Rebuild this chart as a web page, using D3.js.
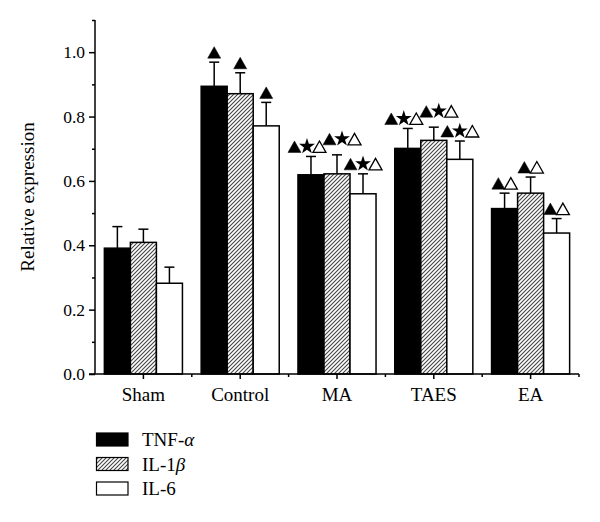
<!DOCTYPE html>
<html>
<head>
<meta charset="utf-8">
<script src="https://cdn.jsdelivr.net/npm/d3@7"></script>
<style>
  body { margin: 0; background: #fff; }
  svg { display: block; }
  text { font-family: "Liberation Serif", "Times New Roman", serif; fill: #000; }
</style>
</head>
<body>
<svg id="chart" width="600" height="522"></svg>
<script>
// ---- data ----
const categories = ["Sham", "Control", "MA", "TAES", "EA"];
const seriesNames = ["TNF-α", "IL-1β", "IL-6"];
const tnfValues = [0.391, 0.894, 0.619, 0.701, 0.514];
const tnfErrors = [0.067, 0.075, 0.057, 0.062, 0.048];
const il1bValues = [0.409, 0.871, 0.622, 0.726, 0.562];
const il1bErrors = [0.041, 0.065, 0.059, 0.041, 0.050];
const il6Values = [0.282, 0.771, 0.560, 0.667, 0.438];
const il6Errors = [0.050, 0.073, 0.062, 0.057, 0.045];
// significance markers per category (same for each series): T = ▲ filled, S = ★, O = △ open
const markers = ["", "T", "TSO", "TSO", "TO"];
const yTicks = [0.0, 0.2, 0.4, 0.6, 0.8, 1.0];
const yMinorTicks = [0.1, 0.3, 0.5, 0.7, 0.9, 1.1];

// ---- layout ----
const svg = d3.select("#chart");
const plotLeft = 95, plotRight = 579, plotTop = 20, plotBottom = 374;

const x = d3.scaleBand().domain(categories).range([plotLeft, plotRight]).paddingInner(0).paddingOuter(0);
const inner = d3.scaleBand().domain(d3.range(3)).range([0, x.bandwidth()]).paddingInner(0).paddingOuter(0.36);
const y = d3.scaleLinear().domain([0, 1.1]).range([plotBottom, plotTop]);

const series = [
  { name: seriesNames[0], values: tnfValues, errors: tnfErrors, fill: "#000" },
  { name: seriesNames[1], values: il1bValues, errors: il1bErrors, fill: "url(#hatch)" },
  { name: seriesNames[2], values: il6Values, errors: il6Errors, fill: "#fff" }
];

// hatch pattern
const defs = svg.append("defs");
const pat = defs.append("pattern").attr("id", "hatch").attr("patternUnits", "userSpaceOnUse")
  .attr("width", 4).attr("height", 4);
pat.append("rect").attr("width", 4).attr("height", 4).attr("fill", "#fff");
pat.append("path").attr("d", "M-1,1 l2,-2 M0,4 l4,-4 M3,5 l2,-2")
  .attr("stroke", "#444").attr("stroke-width", 1.1);

// marker group nudges (style) for three-symbol groups, to keep neighbours from colliding
const nudgeX = [-4, 5, 0], liftY = [0, 6, 0];

// bars
const g = svg.append("g");
series.forEach((s, si) => {
  const grp = g.append("g");
  categories.forEach((c, ci) => {
    const bx = x(c) + inner(si);
    const bw = inner.bandwidth();
    const v = s.values[ci], e = s.errors[ci];
    const cx = bx + bw / 2;
    // error bar (upper only)
    grp.append("line").attr("x1", cx).attr("x2", cx).attr("y1", y(v)).attr("y2", y(v + e))
      .attr("stroke", "#000").attr("stroke-width", 1.5);
    grp.append("line").attr("x1", cx - 5).attr("x2", cx + 5).attr("y1", y(v + e)).attr("y2", y(v + e))
      .attr("stroke", "#000").attr("stroke-width", 1.5);
    grp.append("rect").attr("x", bx).attr("y", y(v)).attr("width", bw).attr("height", y(0) - y(v))
      .attr("fill", s.fill).attr("stroke", "#000").attr("stroke-width", 1.5);
    // markers
    const m = markers[ci];
    if (m) {
      const step = 12.5;
      const n = m.length;
      const three = n === 3;
      const baseY = y(v + e) - 4 - (three ? liftY[si] : 0);
      const ox = three ? nudgeX[si] : 0;
      m.split("").forEach((k, ki) => {
        const mx = cx + ox + (ki - (n - 1) / 2) * step;
        if (k === "T" || k === "O") {
          const h = 11.5, w = 13;
          grp.append("path")
            .attr("d", `M${mx},${baseY - h} L${mx + w / 2},${baseY} L${mx - w / 2},${baseY} Z`)
            .attr("fill", k === "T" ? "#000" : "#fff")
            .attr("stroke", "#000").attr("stroke-width", k === "T" ? 0.5 : 1.3)
            .attr("stroke-linejoin", "miter");
        } else {
          grp.append("path")
            .attr("d", d3.symbol().type(d3.symbolStar).size(78)())
            .attr("transform", `translate(${mx},${baseY - 6})`)
            .attr("fill", "#000");
        }
      });
    }
  });
});

// y axis
const yAxis = svg.append("g").attr("transform", `translate(${plotLeft},0)`)
  .call(d3.axisLeft(y).tickValues(yTicks).tickFormat(d3.format(".1f")).tickSize(6).tickPadding(4));
yAxis.select(".domain").attr("d", `M0,${y(0)}V${y(1.1)}`).attr("stroke-width", 1.5);
yAxis.selectAll(".tick line").attr("stroke-width", 1.5);
yAxis.selectAll("text").style("font-size", "17.5px").style("font-family", "Liberation Serif, serif");
svg.append("g").attr("transform", `translate(${plotLeft},0)`)
  .call(d3.axisLeft(y).tickValues(yMinorTicks).tickFormat("").tickSize(3))
  .call(a => a.select(".domain").remove())
  .selectAll("line").attr("stroke-width", 1.5);

// x axis
const xAxis = svg.append("g").attr("transform", `translate(0,${plotBottom})`)
  .call(d3.axisBottom(x).tickSize(5).tickPadding(9));
xAxis.select(".domain").attr("d", `M${plotLeft - 6},0H${plotRight}`).attr("stroke-width", 1.5);
xAxis.selectAll(".tick line").attr("stroke-width", 1.5);
xAxis.selectAll("text").style("font-size", "19px").style("font-family", "Liberation Serif, serif");
const boundaries = categories.slice(1).map(c => x(c)).concat([plotRight]);
svg.append("g").selectAll("line").data(boundaries).join("line")
  .attr("x1", d => d).attr("x2", d => d).attr("y1", plotBottom).attr("y2", plotBottom + 3)
  .attr("stroke", "#000").attr("stroke-width", 1.5);

// y label
svg.append("text")
  .attr("transform", `translate(34,197) rotate(-90)`)
  .attr("text-anchor", "middle")
  .style("font-size", "19px")
  .text("Relative expression");

// legend
const legend = svg.append("g");
series.forEach((s, i) => {
  const ly = 433 + i * 24.5;
  legend.append("rect").attr("x", 96.5).attr("y", ly).attr("width", 31.5).attr("height", 13)
    .attr("fill", s.fill).attr("stroke", "#000").attr("stroke-width", 1.2);
  const t = legend.append("text").attr("x", 142).attr("y", ly + 13).style("font-size", "19px");
  const parts = s.name.split(/(α|β)/);
  parts.forEach(p => {
    if (!p) return;
    const ts = t.append("tspan").text(p);
    if (p === "α" || p === "β") ts.style("font-style", "italic");
  });
});
</script>
</body>
</html>
